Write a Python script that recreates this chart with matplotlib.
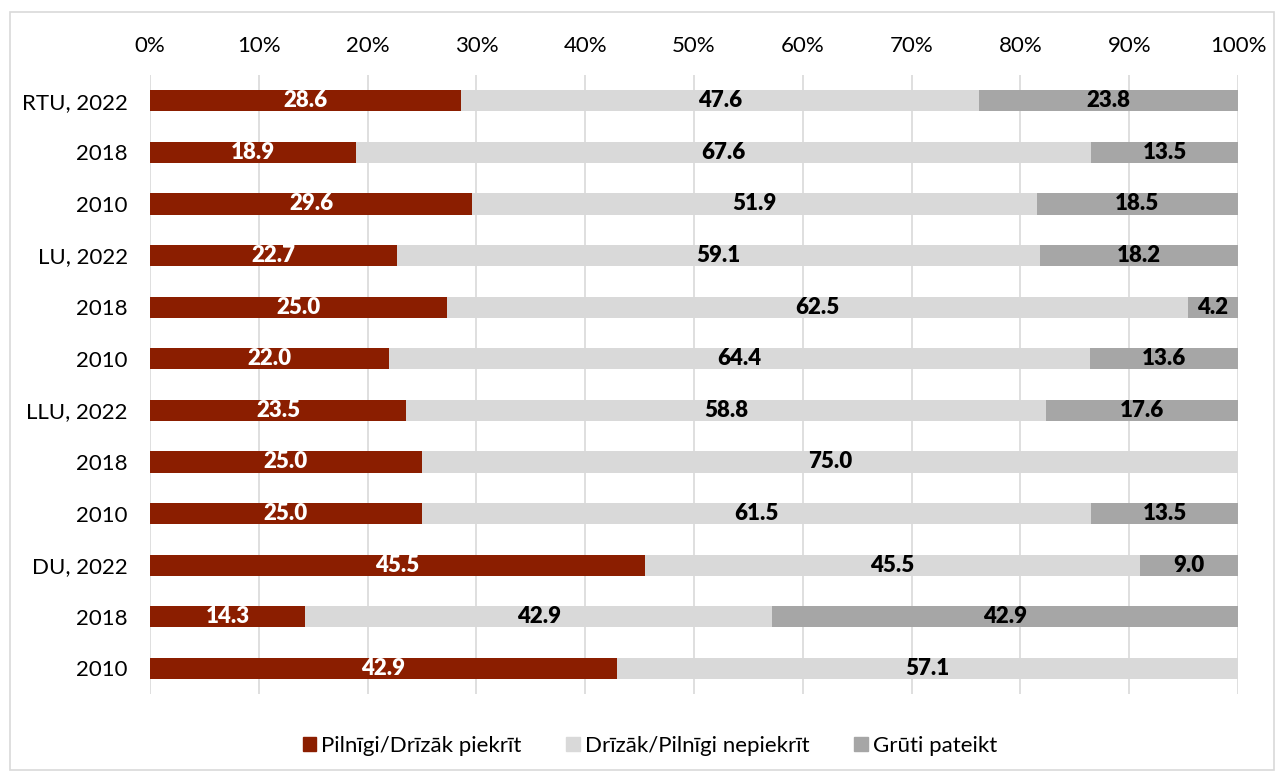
import matplotlib.pyplot as plt
import matplotlib.patches as mpatches
import numpy as np

# data (top to bottom as in the chart)
categories = ['RTU, 2022', '2018', '2010', 'LU, 2022', '2018', '2010',
              'LLU, 2022', '2018', '2010', 'DU, 2022', '2018', '2010']
agree = [28.6, 18.9, 29.6, 22.7, 25.0, 22.0, 23.5, 25.0, 25.0, 45.5, 14.3, 42.9]
disagree = [47.6, 67.6, 51.9, 59.1, 62.5, 64.4, 58.8, 75.0, 61.5, 45.5, 42.9, 57.1]
hard = [23.8, 13.5, 18.5, 18.2, 4.2, 13.6, 17.6, 0.0, 13.5, 9.0, 42.9, 0.0]
series_names = ['Pilnīgi/Drīzāk piekrīt', 'Drīzāk/Pilnīgi nepiekrīt', 'Grūti pateikt']

colors = ['#8B1E00', '#D9D9D9', '#A6A6A6']
text_colors = ['white', 'black', 'black']

plt.rcParams['font.family'] = ['Lato', 'DejaVu Sans']

fig = plt.figure(figsize=(12.82, 7.79), dpi=100)
ax = fig.add_axes([0.117, 0.109, 0.8487, 0.7947])

vals = np.array([agree, disagree, hard])
totals = vals.sum(axis=0)
shares = vals / totals * 100
y = np.arange(len(categories))

left = np.zeros(len(categories))
for i in range(3):
    ax.barh(y, shares[i], left=left, height=0.41, color=colors[i], zorder=2)
    for j in range(len(categories)):
        if vals[i, j] > 0:
            ax.text(left[j] + shares[i, j] / 2, y[j], f'{vals[i, j]:.1f}',
                    ha='center', va='center', color=text_colors[i],
                    fontsize=16, fontweight='heavy', zorder=3)
    left += shares[i]

ax.set_xlim(0, 100)
ax.set_ylim(len(categories) - 0.5, -0.5)
ax.set_xticks(np.arange(0, 101, 10))
ax.set_xticklabels([f'{t}%' for t in range(0, 101, 10)])
ax.xaxis.tick_top()
ax.set_yticks(y)
ax.set_yticklabels(categories)
ax.tick_params(axis='both', length=0, labelsize=16)
ax.tick_params(axis='x', pad=14)
ax.tick_params(axis='y', pad=16)
ax.grid(axis='x', color='#D9D9D9', linewidth=1.2, zorder=0)
for s in ax.spines.values():
    s.set_visible(False)

handles = [mpatches.Patch(color=c, label=n) for c, n in zip(colors, series_names)]
fig.legend(handles=handles, loc='center', bbox_to_anchor=(0.507, 0.043), ncol=3,
           frameon=False, fontsize=16, handlelength=0.6, handleheight=0.6,
           handletextpad=0.25, columnspacing=2.0)

# outer border
fig.add_artist(mpatches.Rectangle((0.008, 0.012), 0.986, 0.972, transform=fig.transFigure,
                                  fill=False, edgecolor='#D9D9D9', linewidth=1.2))

fig.savefig('out.png', dpi=100)
